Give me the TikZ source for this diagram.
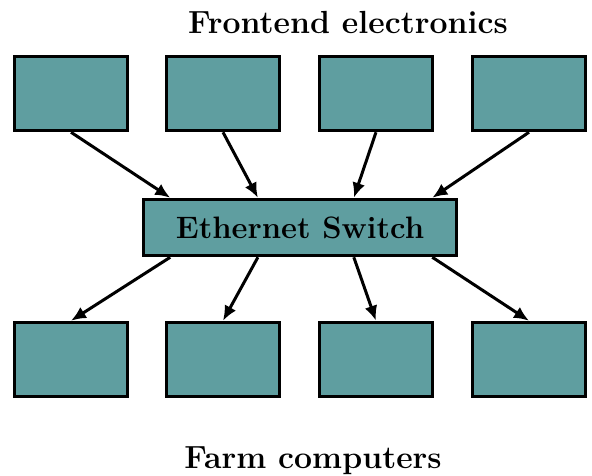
\documentclass[tikz,border=0pt]{standalone}
\usetikzlibrary{positioning,calc,arrows.meta}
\definecolor{boxteal}{RGB}{95,158,160}
\tikzstyle{unit}=[draw=black,line width=3.5pt,fill=boxteal,minimum width=113pt,minimum height=74pt,inner sep=0pt]
\tikzstyle{switch}=[draw=black,line width=3.5pt,fill=boxteal,minimum width=313pt,minimum height=56pt,inner sep=0pt,font=\fontsize{31}{34}\selectfont\bfseries]
\tikzstyle{title}=[font=\fontsize{32}{35}\selectfont\bfseries,inner sep=0pt]
\tikzstyle{link}=[line width=3pt,-{Latex[length=15pt,width=13pt]}]

\begin{document}
\begin{tikzpicture}[x=1pt,y=-1pt]
				\useasboundingbox (0,0) rectangle (592,476);
				\node[title] (fe) at (348,22) {Frontend electronics};
				\node[title] (farm) at (313,461) {Farm computers};
				\node[switch] (sw) at (300,227.5) {Ethernet Switch};
				% frontend and farm boxes
				\foreach \i/\x in {1/71,2/223,3/376,4/529}{
					\node[unit] (t\i) at (\x,93.5) {};
					\node[unit] (b\i) at (\x,359.5) {};
				}
				\foreach \i/\f in {1/0.09,2/0.367,3/0.67,4/0.918}{
					\draw[link] (t\i.south) -- ($(sw.north west)!\f!(sw.north east)$);
					\draw[link] ($(sw.south west)!\f!(sw.south east)$) -- (b\i.north);
				}
\end{tikzpicture}
\end{document}
